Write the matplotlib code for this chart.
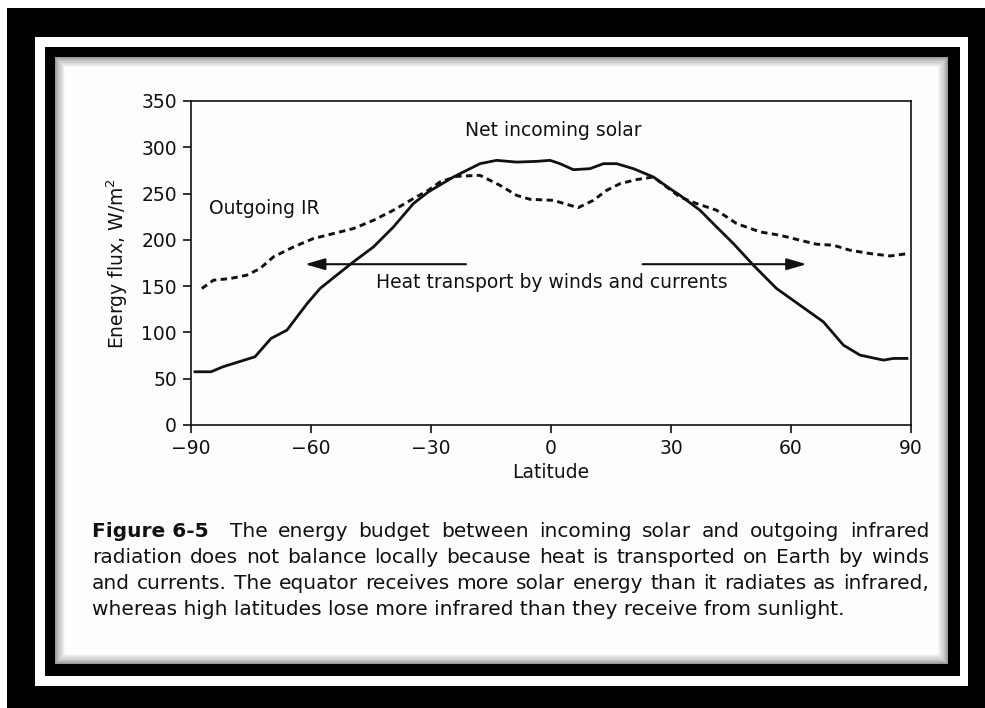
import matplotlib
matplotlib.use("Agg")
import matplotlib.pyplot as plt
from matplotlib.patches import Rectangle

plt.rcParams['font.family'] = ['DejaVu Sans']

# net incoming solar (solid)
solar_lat = [-89, -85, -82, -78, -74, -70, -66, -63.5, -61, -57.75, -53.6, -49.4, -44.4,
             -39.4, -34.4, -30.7, -24.4, -17.75, -13.6, -8.6, -3.6, -0.25, 2.25, 5.6, 9.75,
             13.1, 16.4, 20.6, 25.6, 29.75, 32.25, 37.25, 41.4, 45.6, 50.6, 56.4, 62.25,
             68.1, 73.1, 77.25, 83.1, 85.6, 89]
solar_val = [57.5, 57.5, 62.9, 68.3, 73.7, 93.5, 102.5, 116.8, 131, 147.4, 161.8, 176.2, 192.3,
             213.9, 239.2, 251.7, 267.9, 282.3, 285.9, 284, 284.8, 285.9, 282.3, 275.8, 276.9,
             282.3, 282.3, 276.9, 267.9, 255.3, 248.1, 232, 213.9, 196, 172.6, 147.4, 129.4,
             111.4, 86.3, 75.5, 70.1, 71.9, 71.9]

# outgoing IR (dashed)
ir_lat = [-87.3, -84.4, -80.25, -76.1, -72.75, -69.4, -64.4, -59.4, -54.4, -49.4, -44.4,
          -39.4, -34.4, -30.7, -27.75, -23.6, -17.75, -12.75, -8.6, -5.25, 0.6, 3.9, 6.8,
          10.6, 13.9, 17.25, 21.4, 25.6, 27.25, 32.25, 36.4, 41.4, 46.4, 52.25, 57.25,
          62.25, 66.4, 70.6, 74.75, 79.75, 84.75, 89.3]
ir_val = [147.4, 156.4, 158.2, 161.8, 169, 181.6, 192.3, 201.4, 206.8, 212.2, 221.1,
          232, 244.6, 253.5, 262.5, 268.6, 269.7, 258.9, 248.1, 243.8, 242.7, 238.4, 234.8,
          242.7, 253.5, 260.7, 265.1, 267.9, 262.5, 246.3, 239.2, 232, 217.6, 208.6, 205,
          199.6, 195.3, 194.2, 188.8, 185.2, 182.6, 185.2]

xticks = [-90, -60, -30, 0, 30, 60, 90]
yticks = [0, 50, 100, 150, 200, 250, 300, 350]

caption = [
    [("Figure 6-5", True), ("The", False), ("energy", False), ("budget", False), ("between", False),
     ("incoming", False), ("solar", False), ("and", False), ("outgoing", False), ("infrared", False)],
    [(w, False) for w in "radiation does not balance locally because heat is transported on Earth by winds".split()],
    [(w, False) for w in "and currents. The equator receives more solar energy than it radiates as infrared,".split()],
]
caption_last = "whereas high latitudes lose more infrared than they receive from sunlight."

W, H = 985, 708
fig = plt.figure(figsize=(W / 100, H / 100), dpi=100)
fig.patch.set_facecolor('white')


def px_rect(x0, y0, x1, y1, color, z=-10):
    fig.patches.append(Rectangle((x0 / W, 1 - y1 / H), (x1 - x0) / W, (y1 - y0) / H,
                                 transform=fig.transFigure, facecolor=color,
                                 edgecolor='none', zorder=z))


# frame: black / white / black / paper with soft inner shadow
px_rect(7, 8, W, H, 'black')
px_rect(35, 37, 968, 686, 'white')
px_rect(45, 47, 960, 676, 'black')
steps = 10
for i in range(steps):
    g = 0.5 + 0.5 * ((i + 1) / steps) ** 0.7
    px_rect(55 + i * 1.1, 57 + i * 1.1, 948 - i * 1.1, 664 - i * 1.1, (g, g, g))
px_rect(66, 68, 937, 653, '#fdfdfd')

ax = fig.add_axes([191 / W, 1 - 425 / H, 720 / W, 324 / H])
ax.set_facecolor('none')
ax.plot(solar_lat, solar_val, color='#111111', lw=2.0)
ax.plot(ir_lat, ir_val, color='#111111', lw=2.1, linestyle=(0, (2.2, 1.5)))

ax.set_xlim(-90, 90)
ax.set_ylim(0, 350)
ax.set_xticks(xticks)
ax.set_xticklabels([str(t).replace('-', '\u2212') for t in xticks])
ax.set_yticks(yticks)
ax.tick_params(direction='out', length=6, width=1.2, labelsize=13.5, colors='#111111', pad=4)
for s in ax.spines.values():
    s.set_linewidth(1.2)
    s.set_color('#111111')
ax.set_xlabel('Latitude', fontsize=13.5, color='#111111', labelpad=4)
ax.set_ylabel('Energy flux, W/m$^2$', fontsize=13.5, color='#111111', labelpad=8)

ax.text(0.5, 318, 'Net incoming solar', fontsize=13.5, ha='center', va='center', color='#111111')
ax.text(-85.5, 234, 'Outgoing IR', fontsize=13.5, ha='left', va='center', color='#111111')
ax.text(0.1, 153.5, 'Heat transport by winds and currents', fontsize=13.5, ha='center',
        va='center', color='#111111')

arrow = dict(arrowstyle='-|>,head_length=1.2,head_width=0.35', color='#111111', lw=1.5,
             shrinkA=0, shrinkB=0)
ax.annotate('', xy=(-61.5, 173.7), xytext=(-21.25, 173.7), arrowprops=arrow)
ax.annotate('', xy=(63.9, 173.7), xytext=(22.9, 173.7), arrowprops=arrow)

# justified caption
renderer = fig.canvas.get_renderer()
left, right = 92, 929
baselines = [537, 563, 589, 615]
for words, base in zip(caption, baselines):
    texts = []
    for w, bold in words:
        t = fig.text(0, 1 - base / H, w, fontsize=14.5, fontweight='bold' if bold else 'normal',
                     va='baseline', ha='left', color='#111111')
        texts.append(t)
    widths = [t.get_window_extent(renderer).width for t in texts]
    weights = [2 if words[i][1] else 1 for i in range(len(words) - 1)]
    gap = (right - left - sum(widths)) / sum(weights)
    x = left
    for i, t in enumerate(texts):
        t.set_x(x / W)
        x += widths[i]
        if i < len(weights):
            x += gap * weights[i]
fig.text(left / W, 1 - baselines[3] / H, caption_last, fontsize=14.5, va='baseline',
         ha='left', color='#111111')

fig.savefig('out.png', dpi=100, facecolor=fig.get_facecolor())
